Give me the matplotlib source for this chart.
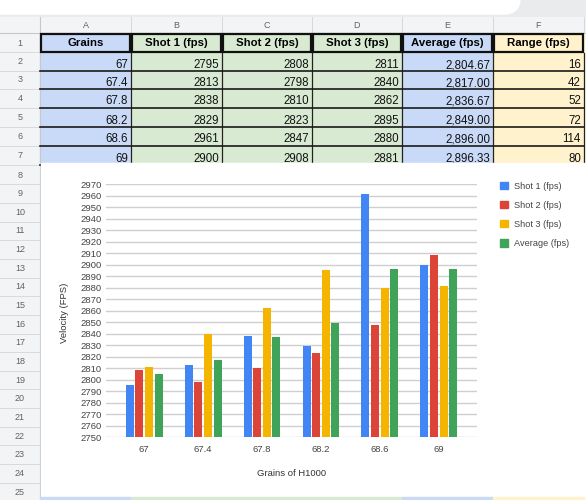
import matplotlib.pyplot as plt
from matplotlib.patches import Rectangle, Patch, FancyBboxPatch

plt.rcParams['font.family'] = ['Liberation Sans', 'DejaVu Sans']

# table / chart data
grains = ['67', '67.4', '67.8', '68.2', '68.6', '69']
shot1 = [2795, 2813, 2838, 2829, 2961, 2900]
shot2 = [2808, 2798, 2810, 2823, 2847, 2908]
shot3 = [2811, 2840, 2862, 2895, 2880, 2881]
average = [2804.67, 2817.00, 2836.67, 2849.00, 2896.00, 2896.33]
spread = [16, 42, 52, 72, 114, 80]

headers = ['Grains', 'Shot 1 (fps)', 'Shot 2 (fps)', 'Shot 3 (fps)', 'Average (fps)', 'Range (fps)']
col_letters = ['A', 'B', 'C', 'D', 'E', 'F']
series_names = ['Shot 1 (fps)', 'Shot 2 (fps)', 'Shot 3 (fps)', 'Average (fps)']
series_colors = ['#4285f4', '#db4437', '#f4b400', '#3fa35a']
col_fill = ['#c9daf8', '#d9ead3', '#d9ead3', '#d9ead3', '#c9daf8', '#fff2cc']

W, H = 586, 500
fig = plt.figure(figsize=(W / 100, H / 100), dpi=100)

# spreadsheet background, drawn in pixel coords
bg = fig.add_axes([0, 0, 1, 1])
bg.set_xlim(0, W)
bg.set_ylim(H, 0)
bg.axis('off')

col_edges = [40, 131, 222, 312, 402, 493, 584]
row_edges = [33, 53, 71, 89, 108, 127, 146, 165]

# header strip and row number column
bg.add_patch(Rectangle((0, 0), W, 17, color='#e9ebed', zorder=0))
bg.add_patch(Rectangle((0, 17), W, 16, color='#f3f4f5', zorder=0))
bg.add_patch(Rectangle((0, 17), 40, H - 17, color='#f3f4f5', zorder=0))
# white glare at the top of the photo
bg.add_patch(FancyBboxPatch((-60, -40), 580, 54, boxstyle='round,pad=0,rounding_size=16',
                            color='white', zorder=0.5))
for i, letter in enumerate(col_letters):
    cx = (col_edges[i] + col_edges[i + 1]) / 2
    bg.text(cx, 25, letter, ha='center', va='center', fontsize=6.5, color='#5f6368')
    bg.plot([col_edges[i + 1]] * 2, [17, 33], color='#d8d8d8', lw=0.7)
bg.plot([0, W], [33, 33], color='#c8c8c8', lw=0.8)

# row numbers 1..25
row_centers = [(row_edges[k] + row_edges[k + 1]) / 2 for k in range(7)]
row_centers += [175 + 18.65 * k for k in range(18)]
for k, cy in enumerate(row_centers):
    bg.text(20, cy, str(k + 1), ha='center', va='center', fontsize=6.5, color='#5f6368')
    bg.plot([0, 40], [cy + 9.3, cy + 9.3], color='#dadada', lw=0.7)
bg.plot([40, 40], [17, H], color='#c8c8c8', lw=0.8)

# table cells
table_cols = [grains, shot1, shot2, shot3,
              ['{:,.2f}'.format(v) for v in average], spread]
for i in range(6):
    x0, x1 = col_edges[i], col_edges[i + 1]
    bg.add_patch(Rectangle((x0, row_edges[0]), x1 - x0, row_edges[-1] - row_edges[0],
                           color=col_fill[i], zorder=1))
    bg.add_patch(Rectangle((x0 + 1, row_edges[0] + 1), x1 - x0 - 2, row_edges[1] - row_edges[0] - 2,
                           fill=False, ec='#111111', lw=1.6, zorder=3))
    bg.text((x0 + x1) / 2, (row_edges[0] + row_edges[1]) / 2 + 0.5, headers[i],
            ha='center', va='center', fontsize=8.2, fontweight='bold', zorder=4)
    for r, val in enumerate(table_cols[i]):
        cy = (row_edges[r + 1] + row_edges[r + 2]) / 2 + 3
        bg.text(x1 - 3, cy, str(val), ha='right', va='center', fontsize=8.3,
                color='#111111', zorder=4)
    bg.plot([x1, x1], [row_edges[1], row_edges[-1]], color='#222222', lw=0.9, zorder=3)
for y in row_edges[2:]:
    bg.plot([col_edges[0], col_edges[-1]], [y, y], color='#1a1a1a', lw=1.2, zorder=3)

# chart card and bottom strip
bg.add_patch(Rectangle((41, 163), W - 41, 334, color='white', zorder=5))
for i in range(6):
    bg.add_patch(Rectangle((col_edges[i], 497), col_edges[i + 1] - col_edges[i], 3,
                           color=col_fill[i], zorder=5))

# chart
ax = fig.add_axes([106 / W, 1 - 437 / H, 371 / W, 253 / H])
ax.set_zorder(10)
ax.patch.set_alpha(0)
x = range(len(grains))
pitch, width = 0.163, 0.136
for j, (vals, name, c) in enumerate(zip([shot1, shot2, shot3, average], series_names, series_colors)):
    ax.bar([p + (j - 1.5) * pitch for p in x], [v - 2750 for v in vals], width,
           bottom=2750, color=c, label=name, zorder=3)

ax.set_ylim(2750, 2970)
ax.set_xlim(-0.65, 5.65)
ax.set_yticks(range(2750, 2971, 10))
ax.set_xticks(list(x))
ax.set_xticklabels(grains)
ax.tick_params(axis='both', length=0, labelsize=6.8, colors='#444444')
ax.tick_params(axis='y', pad=3)
ax.tick_params(axis='x', pad=6)
ax.grid(axis='y', color='#cfcfcf', lw=1, zorder=0)
for s in ax.spines.values():
    s.set_visible(False)

ax.set_ylabel('Velocity (FPS)', fontsize=6.8, color='#333333')
ax.yaxis.set_label_coords(-0.10, 0.49)
ax.set_xlabel('Grains of H1000', fontsize=6.8, color='#333333')
ax.xaxis.set_label_coords(0.5, -0.128)

handles = [Patch(color=c) for c in series_colors]
leg = fig.legend(handles, series_names, loc='upper left',
                 bbox_to_anchor=(496 / W, 1 - 178 / H), frameon=False,
                 fontsize=6.6, handlelength=0.9, handleheight=0.9,
                 handletextpad=0.7, labelspacing=1.1, borderaxespad=0)
for t in leg.get_texts():
    t.set_color('#444444')
leg.set_zorder(11)

fig.savefig('out.png', dpi=100)
